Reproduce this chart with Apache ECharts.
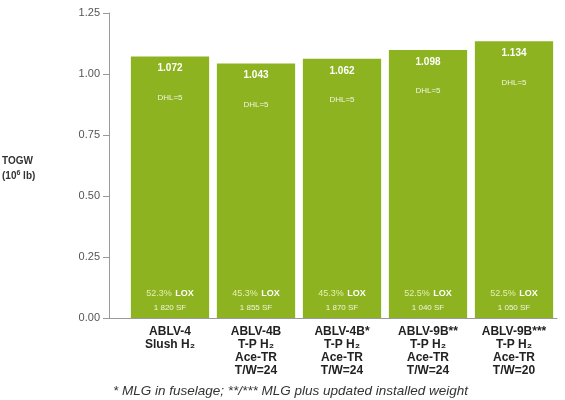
<!DOCTYPE html>
<html><head><meta charset="utf-8">
<script src="https://cdn.jsdelivr.net/npm/echarts@6/dist/echarts.min.js"></script>
<style>html,body{margin:0;padding:0;background:#fff}#c{width:565px;height:400px}</style>
</head><body><div id="c"></div>
<script>
var categories = ['ABLV-4\nSlush H₂', 'ABLV-4B\nT-P H₂\nAce-TR\nT/W=24', 'ABLV-4B*\nT-P H₂\nAce-TR\nT/W=24', 'ABLV-9B**\nT-P H₂\nAce-TR\nT/W=24', 'ABLV-9B***\nT-P H₂\nAce-TR\nT/W=20'];
var togw = [1.072, 1.043, 1.062, 1.098, 1.134];
var valueLabels = ['1.072', '1.043', '1.062', '1.098', '1.134'];
var dhlLabels = ['DHL=5', 'DHL=5', 'DHL=5', 'DHL=5', 'DHL=5'];
var loxLabels = ['52.3%', '45.3%', '45.3%', '52.5%', '52.5%'];
var sfLabels = ['1 820 SF', '1 855 SF', '1 870 SF', '1 040 SF', '1 050 SF'];
var yTicks = [0, 0.25, 0.5, 0.75, 1.0, 1.25];

var chart = echarts.init(document.getElementById('c'), null, {renderer: 'canvas'});
var F = '"Liberation Sans", Arial, sans-serif';
var green = '#8db320';
var option = {
  animation: false,
  backgroundColor: '#fff',
  grid: [
    {left: 109, right: 8, top: 13, bottom: 82},
    {left: 127, right: 8, top: 13, bottom: 82}
  ],
  xAxis: [
    {gridIndex: 0, type: 'value', min: 0, max: 1, axisLine: {show: true, lineStyle: {color: '#9a9a9a', width: 1}}, axisTick: {show: false}, axisLabel: {show: false}, splitLine: {show: false}},
    {gridIndex: 1, type: 'category', data: categories, axisLine: {show: false}, axisTick: {show: false},
     axisLabel: {interval: 0, margin: 7, color: '#222', fontFamily: F, fontWeight: 'bold', fontSize: 12, lineHeight: 13}}
  ],
  yAxis: [
    {gridIndex: 0, type: 'value', min: 0, max: 1.25, interval: 0.25,
     axisLine: {show: true, lineStyle: {color: '#9a9a9a'}}, axisTick: {show: true, length: 6, lineStyle: {color: '#9a9a9a'}},
     splitLine: {show: false},
     axisLabel: {color: '#555', fontFamily: F, fontSize: 11, margin: 9, formatter: function (v) { return v.toFixed(2); }}},
    {gridIndex: 1, type: 'value', min: 0, max: 1.25, interval: 0.25, show: false}
  ],
  series: [
    {type: 'bar', xAxisIndex: 1, yAxisIndex: 1, data: togw, barCategoryGap: '9%',
     itemStyle: {color: green},
     label: {show: true, position: 'insideTop', distance: 5, color: '#fff', fontFamily: F,
       formatter: function (p) { return '{v|' + valueLabels[p.dataIndex] + '}\n{d|' + dhlLabels[p.dataIndex] + '}'; },
       rich: {v: {fontWeight: 'bold', fontSize: 10, color: '#fff', lineHeight: 14, fontFamily: F},
              d: {fontSize: 8, color: '#f2f5e0', lineHeight: 44, fontFamily: F}}}},
    {type: 'bar', xAxisIndex: 1, yAxisIndex: 1, data: togw, barGap: '-100%', barCategoryGap: '9%',
     itemStyle: {color: 'rgba(0,0,0,0)'}, silent: true,
     label: {show: true, position: 'insideBottom', distance: 4, fontFamily: F,
       formatter: function (p) { return '{p|' + loxLabels[p.dataIndex] + '} {l|LOX}\n{s|' + sfLabels[p.dataIndex] + '}'; },
       rich: {p: {fontSize: 9, color: '#e6efb0', fontFamily: F, lineHeight: 14},
              l: {fontSize: 9, fontWeight: 'bold', color: '#fff', fontFamily: F, lineHeight: 14},
              s: {fontSize: 8, color: '#f2f5e0', fontFamily: F, lineHeight: 13}}}}
  ],
  graphic: [
    {type: 'text', left: 2, top: 156, style: {text: 'TOGW', fill: '#333', font: 'bold 10px ' + F}},
    {type: 'text', left: 2, top: 170, style: {
      text: '{a|(10}{s|6}{a| lb)}',
      rich: {a: {fill: '#333', fontWeight: 'bold', fontSize: 10, fontFamily: F, verticalAlign: 'bottom'},
             s: {fill: '#333', fontWeight: 'bold', fontSize: 7, fontFamily: F, verticalAlign: 'top', padding: [0, 0, 4, 0]}}}},
    {type: 'text', left: 113, top: 384, style: {text: '* MLG in fuselage; **/*** MLG plus updated installed weight', fill: '#333', font: 'italic 13.5px ' + F}}
  ]
};
chart.setOption(option);
</script></body></html>
